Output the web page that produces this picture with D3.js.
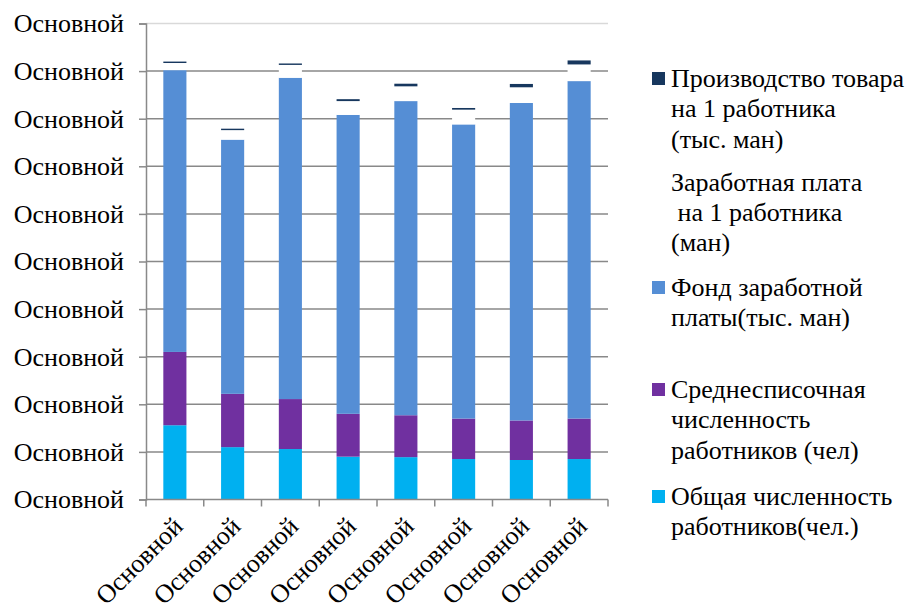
<!DOCTYPE html>
<html>
<head>
<meta charset="utf-8">
<script src="https://cdn.jsdelivr.net/npm/d3@7"></script>
</head>
<body style="margin:0">
<div id="chart"></div>
<script>
// categories and y tick labels (all the same in the source picture)
var categories = ["c1", "c2", "c3", "c4", "c5", "c6", "c7", "c8"];
var xLabels = ["Основной", "Основной", "Основной", "Основной", "Основной", "Основной", "Основной", "Основной"];
var yTicks = [0, 100, 200, 300, 400, 500, 600, 700, 800, 900, 1000];
var yTickLabel = "Основной";

// series, bottom to top of each stack
var totalWorkers = [156, 110, 106, 90, 89, 85, 83, 85];
var avgWorkers = [154, 112, 105, 90, 88, 85, 83, 85];
var wageFund = [592, 534, 675, 628, 660, 618, 667, 709];
var wagePerWorker = [15, 20, 27, 29, 31, 31, 33, 35];
var outputPerWorker = [3, 3, 3, 4, 5.5, 3.5, 7, 8.4];

var seriesNames = [
	["Общая численность", "работников(чел.)"],
	["Среднесписочная", "численность", "работников (чел)"],
	["Фонд заработной", "платы(тыс. ман)"],
	["Заработная плата", "\u00a0на 1 работника", "(ман)"],
	["Производство товара", "на 1 работника", "(тыс. ман)"]
];
var seriesColors = ["#00b0f0", "#7030a0", "#558ed5", "#ffffff", "#17375e"];
var seriesValues = [totalWorkers, avgWorkers, wageFund, wagePerWorker, outputPerWorker];

var FONT = "'Liberation Serif'";
var FS = 26;

var width = 912, height = 612;
var margin = {top: 23.5, left: 146, right: 304, bottom: 112.5};
var plotW = width - margin.left - margin.right;
var plotH = height - margin.top - margin.bottom;

var svg = d3.select("#chart").append("svg")
	.attr("width", width)
	.attr("height", height);

var x = d3.scaleBand().domain(categories).range([margin.left, margin.left + plotW])
	.paddingInner(0.6).paddingOuter(0.3);
var y = d3.scaleLinear().domain([0, 1000]).range([margin.top + plotH, margin.top]);

// gridlines (under the bars, the white segment hides them)
svg.append("g").selectAll("line")
	.data(yTicks.slice(1))
	.join("line")
	.attr("x1", margin.left).attr("x2", margin.left + plotW)
	.attr("y1", d => y(d)).attr("y2", d => y(d))
	.attr("stroke", d => d === 1000 ? "#d9d9d9" : "#898989")
	.attr("stroke-width", 1.5);

// stack
var rows = categories.map(function(c, i) {
	var r = {cat: c};
	seriesValues.forEach(function(s, k) { r["s" + k] = s[i]; });
	return r;
});
var keys = seriesValues.map((s, k) => "s" + k);
var stacked = d3.stack().keys(keys)(rows);

svg.append("g").selectAll("g")
	.data(stacked)
	.join("g")
	.attr("fill", (d, k) => seriesColors[k])
	.selectAll("rect")
	.data(d => d)
	.join("rect")
	.attr("x", d => x(d.data.cat))
	.attr("width", x.bandwidth())
	.attr("y", d => y(d[1]))
	.attr("height", d => y(d[0]) - y(d[1]));

// y axis
var yAxis = d3.axisLeft(y).tickValues(yTicks).tickSize(7).tickPadding(15)
	.tickFormat(() => yTickLabel);
var gy = svg.append("g")
	.attr("transform", "translate(" + margin.left + ",0)")
	.call(yAxis);
gy.select(".domain").attr("stroke", "#898989").attr("stroke-width", 1.5);
gy.selectAll(".tick line").attr("stroke", "#898989").attr("stroke-width", 1.5);
gy.selectAll(".tick text")
	.style("font-family", FONT)
	.attr("font-size", FS)
	.attr("fill", "#000");

// x axis
var xEdges = d3.range(categories.length + 1).map(i => margin.left + i * x.step());
svg.append("line")
	.attr("x1", margin.left).attr("x2", margin.left + plotW)
	.attr("y1", y(0)).attr("y2", y(0))
	.attr("stroke", "#898989").attr("stroke-width", 1.5);
svg.append("g").selectAll("line")
	.data(xEdges)
	.join("line")
	.attr("x1", d => d).attr("x2", d => d)
	.attr("y1", y(0)).attr("y2", y(0) + 7)
	.attr("stroke", "#898989").attr("stroke-width", 1.5);

svg.append("g").selectAll("text")
	.data(categories)
	.join("text")
	.attr("transform", d => "translate(" + (x(d) + x.bandwidth() / 2 + 3) + "," + (y(0) + 22) + ") rotate(-45)")
	.attr("text-anchor", "end")
	.attr("dy", "0.35em")
	.style("font-family", FONT)
	.attr("font-size", FS)
	.text((d, i) => xLabels[i]);

// legend, top entry is the last series
var legendTops = [505, 398, 296, 190.5, 87];
var lineH = 30.3;
var lg = svg.append("g");
seriesNames.forEach(function(lines, k) {
	var base = legendTops[k];
	if (seriesColors[k] !== "#ffffff") {
		lg.append("rect")
			.attr("x", 652).attr("y", base - 15)
			.attr("width", 13).attr("height", 13)
			.attr("fill", seriesColors[k]);
	}
	lines.forEach(function(l, j) {
		lg.append("text")
			.attr("x", 671).attr("y", base + j * lineH)
			.style("font-family", FONT)
			.attr("font-size", FS)
			.text(l);
	});
});
</script>
</body>
</html>
